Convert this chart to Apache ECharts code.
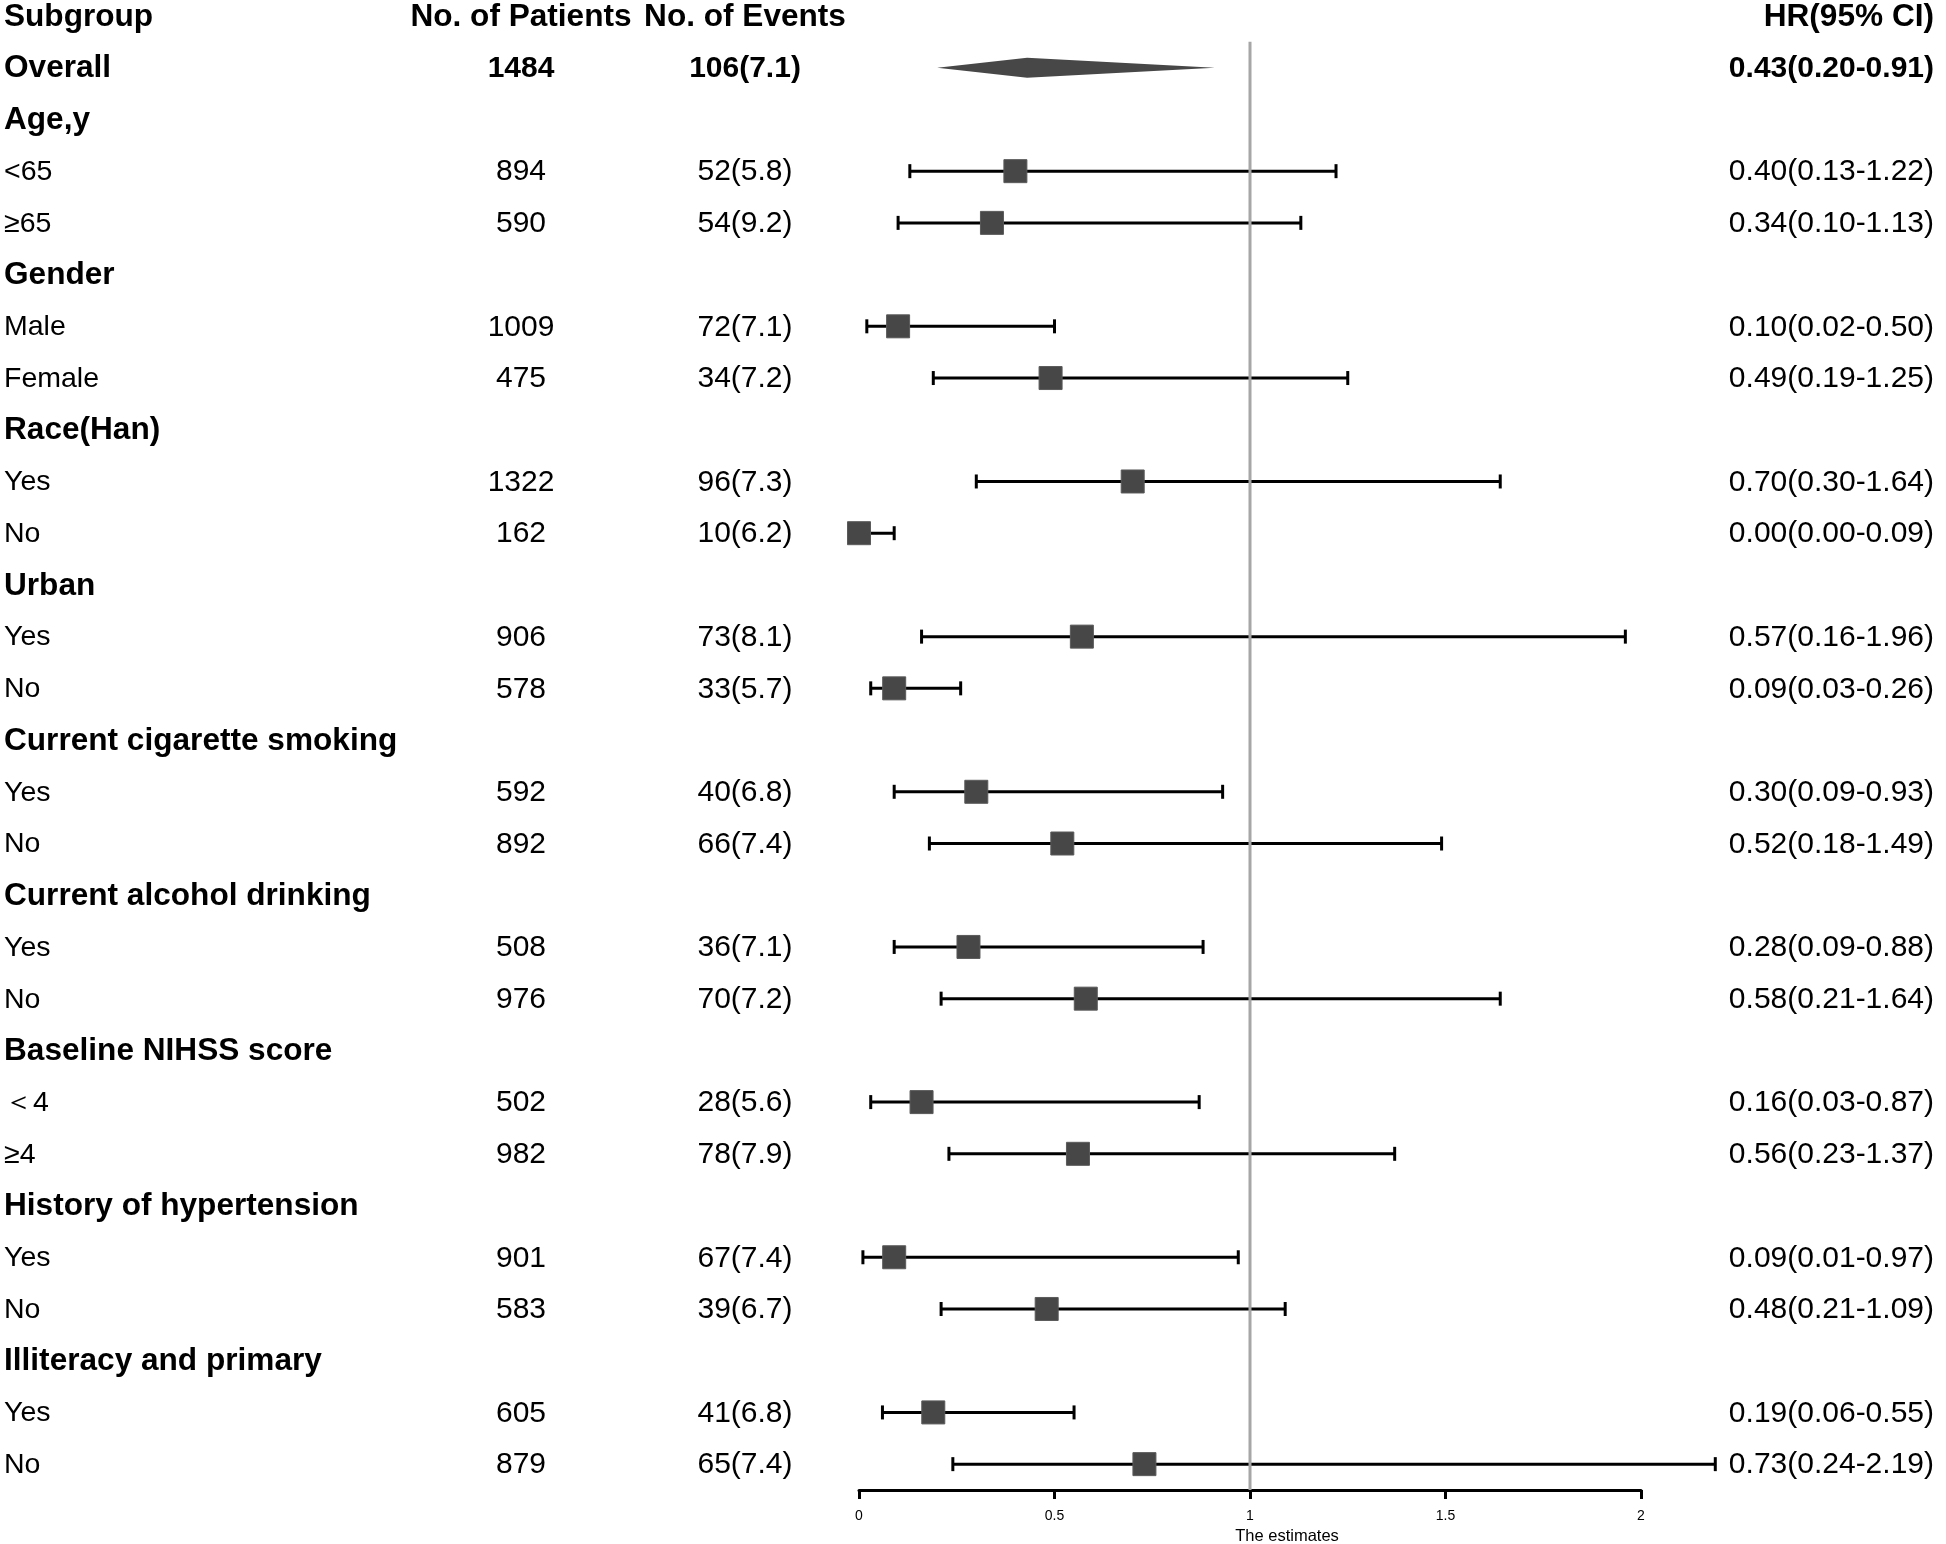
<!DOCTYPE html>
<html>
<head>
<meta charset="utf-8">
<script src="https://cdn.jsdelivr.net/npm/echarts@6/dist/echarts.min.js"></script>
<style>html,body{margin:0;padding:0;background:#fff}#c{width:1946px;height:1544px}</style>
</head>
<body>
<div id="c"></div>
<script>
// ---------- data ----------
const headers = ['Subgroup', 'No. of Patients', 'No. of Events', 'HR(95% CI)'];
const subgroups = ['Overall', 'Age,y', '<65', '≥65', 'Gender', 'Male', 'Female', 'Race(Han)', 'Yes', 'No',
  'Urban', 'Yes', 'No', 'Current cigarette smoking', 'Yes', 'No', 'Current alcohol drinking', 'Yes', 'No',
  'Baseline NIHSS score', '＜4', '≥4', 'History of hypertension', 'Yes', 'No', 'Illiteracy and primary', 'Yes', 'No'];
const patients = [1484, null, 894, 590, null, 1009, 475, null, 1322, 162, null, 906, 578, null, 592, 892,
  null, 508, 976, null, 502, 982, null, 901, 583, null, 605, 879];
const events = ['106(7.1)', null, '52(5.8)', '54(9.2)', null, '72(7.1)', '34(7.2)', null, '96(7.3)', '10(6.2)',
  null, '73(8.1)', '33(5.7)', null, '40(6.8)', '66(7.4)', null, '36(7.1)', '70(7.2)', null, '28(5.6)', '78(7.9)',
  null, '67(7.4)', '39(6.7)', null, '41(6.8)', '65(7.4)'];
const hr = [0.43, null, 0.40, 0.34, null, 0.10, 0.49, null, 0.70, 0.00, null, 0.57, 0.09, null, 0.30, 0.52,
  null, 0.28, 0.58, null, 0.16, 0.56, null, 0.09, 0.48, null, 0.19, 0.73];
const lower = [0.20, null, 0.13, 0.10, null, 0.02, 0.19, null, 0.30, 0.00, null, 0.16, 0.03, null, 0.09, 0.18,
  null, 0.09, 0.21, null, 0.03, 0.23, null, 0.01, 0.21, null, 0.06, 0.24];
const upper = [0.91, null, 1.22, 1.13, null, 0.50, 1.25, null, 1.64, 0.09, null, 1.96, 0.26, null, 0.93, 1.49,
  null, 0.88, 1.64, null, 0.87, 1.37, null, 0.97, 1.09, null, 0.55, 2.19];
const xTicks = [0, 0.5, 1, 1.5, 2];
const refValue = 1;
const xTitle = 'The estimates';

// ---------- layout / style ----------
const FONT = '"Liberation Sans", Arial, Helvetica, sans-serif';
const col = { label: 4, patients: 521, events: 745, hr: 1934 };
const FS_NUM = 30, FS_LABEL_BOLD = 31.6, FS_LABEL = 28.5;
const DARK = '#474747';

const fmt = v => v.toFixed(2);
const hrText = i => hr[i] == null ? '' : `${fmt(hr[i])}(${fmt(lower[i])}-${fmt(upper[i])})`;

// table rows: row 0 = header, rows 1.. = subgroups
const tableData = [];
tableData.push({ value: [0, 0], cells: headers, bold: true, header: true });
subgroups.forEach((s, i) => {
  const isGroup = patients[i] == null;
  tableData.push({
    value: [0, i + 1],
    cells: [s, patients[i] == null ? '' : String(patients[i]), events[i] || '', hrText(i)],
    bold: isGroup || i === 0
  });
});

const ciData = [];
const diamondData = [];
hr.forEach((v, i) => {
  if (v == null) return;
  if (i === 0) diamondData.push([v, i + 1, lower[i], upper[i]]);
  else ciData.push([v, i + 1, lower[i], upper[i]]);
});

const chart = echarts.init(document.getElementById('c'));

function txt(text, x, y, align, bold, size) {
  return {
    type: 'text',
    style: {
      text, x, y: y + 1, align, verticalAlign: 'middle', fill: '#000',
      fontSize: size, fontWeight: bold ? 'bold' : 'normal', fontFamily: FONT
    }
  };
}

chart.setOption({
  animation: false,
  backgroundColor: '#fff',
  grid: { left: 859, right: 305, top: 16, bottom: 54, containLabel: false, outerBoundsMode: 'none' },
  xAxis: {
    type: 'value', position: 'bottom',
    min: xTicks[0], max: xTicks[xTicks.length - 1], interval: xTicks[1] - xTicks[0],
    axisLine: { show: true, onZero: false, lineStyle: { color: '#000', width: 3 } },
    axisTick: { show: true, length: 9, lineStyle: { color: '#000', width: 3 } },
    axisLabel: { color: '#000', fontSize: 14, fontFamily: FONT, margin: 19 },
    splitLine: { show: false },
    name: xTitle, nameLocation: 'middle', nameGap: 37,
    nameTextStyle: { color: '#000', fontSize: 16.5, fontFamily: FONT, padding: [0, 0, 0, 74] }
  },
  yAxis: { type: 'value', min: 0, max: 28.5, inverse: true, show: false },
  series: [
    {
      type: 'custom', clip: false, z: 2,
      data: ciData,
      renderItem: (params, api) => {
        const row = api.value(1);
        const p = api.coord([api.value(0), row]);
        const a = api.coord([api.value(2), row]);
        const b = api.coord([api.value(3), row]);
        const cap = 7, half = 11.5;
        const ls = { stroke: '#000', lineWidth: 3 };
        return {
          type: 'group',
          children: [
            { type: 'line', shape: { x1: a[0], y1: a[1], x2: b[0], y2: b[1] }, style: ls },
            { type: 'line', shape: { x1: a[0], y1: a[1] - cap, x2: a[0], y2: a[1] + cap }, style: ls },
            { type: 'line', shape: { x1: b[0], y1: b[1] - cap, x2: b[0], y2: b[1] + cap }, style: ls },
            { type: 'rect', shape: { x: p[0] - half, y: p[1] - half, width: 2 * half, height: 2 * half },
              style: { fill: DARK, stroke: '#5a5a5a', lineWidth: 1 } }
          ]
        };
      }
    },
    {
      type: 'custom', clip: false, z: 2,
      data: diamondData,
      renderItem: (params, api) => {
        const row = api.value(1);
        const p = api.coord([api.value(0), row]);
        const a = api.coord([api.value(2), row]);
        const b = api.coord([api.value(3), row]);
        const h = 10;
        return {
          type: 'polygon',
          shape: { points: [[a[0], a[1]], [p[0], p[1] - h], [b[0], b[1]], [p[0], p[1] + h]] },
          style: { fill: DARK }
        };
      }
    },
    {
      type: 'custom', clip: false, z: 3,
      data: [[refValue, 0.5, 28.5]],
      renderItem: (params, api) => {
        const a = api.coord([api.value(0), api.value(1)]);
        const b = api.coord([api.value(0), api.value(2)]);
        return {
          type: 'line', shape: { x1: a[0], y1: a[1], x2: b[0], y2: b[1] },
          style: { stroke: '#a6a6a6', lineWidth: 3 }
        };
      }
    },
    {
      type: 'custom', clip: false, z: 4,
      data: tableData,
      renderItem: (params, api) => {
        const d = tableData[params.dataIndex];
        const y = api.coord([0, api.value(1)])[1];
        const c = d.cells;
        const hs = d.header ? FS_LABEL_BOLD : FS_NUM;
        const children = [txt(c[0], col.label, y, 'left', d.bold, d.bold ? FS_LABEL_BOLD : FS_LABEL)];
        if (c[1]) children.push(txt(c[1], col.patients, y, 'center', d.bold, hs));
        if (c[2]) children.push(txt(c[2], col.events, y, 'center', d.bold, hs));
        if (c[3]) children.push(txt(c[3], col.hr, y, 'right', d.bold, hs));
        return { type: 'group', children };
      }
    }
  ]
});
</script>
</body>
</html>
